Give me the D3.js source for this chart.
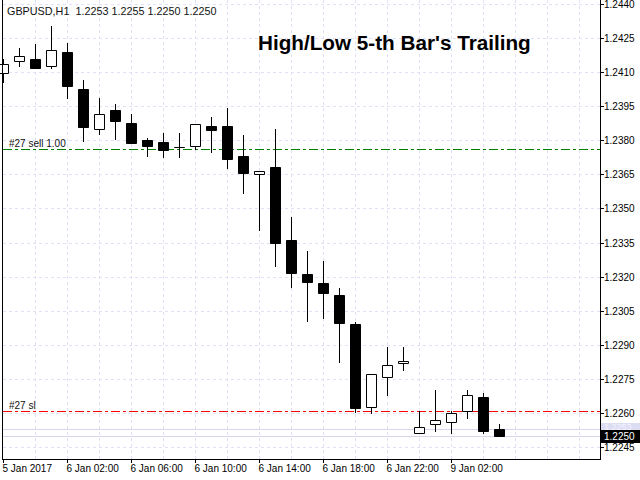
<!DOCTYPE html>
<html>
<head>
<meta charset="utf-8">
<script src="https://cdn.jsdelivr.net/npm/d3@7"></script>
<style>
body { margin: 0; background: #fff; }
svg { display: block; }
text { font-family: "Liberation Sans", Arial, sans-serif; white-space: pre; }
</style>
</head>
<body>
<div id="chart"></div>
<script>
// GBPUSD H1, one bar per hour starting 5 Jan 2017 22:00
var opens  = [1.24098, 1.24151, 1.24160, 1.24129, 1.24190, 1.24028, 1.23848, 1.23932,
              1.23878, 1.23801, 1.23791, 1.23770, 1.23777, 1.23862, 1.23862, 1.23730,
              1.23650, 1.23682, 1.23361, 1.23213, 1.23173, 1.23119, 1.22992, 1.22628,
              1.22756, 1.22819, 1.22510, 1.22551, 1.22558, 1.22608, 1.22671, 1.2253];
var highs  = [1.24160, 1.24208, 1.24223, 1.24302, 1.24230, 1.24067, 1.23988, 1.23959,
              1.23918, 1.23808, 1.23830, 1.23830, 1.23870, 1.23902, 1.23943, 1.23823,
              1.23667, 1.23848, 1.23462, 1.23313, 1.23269, 1.23150, 1.23001, 1.22771,
              1.22891, 1.22891, 1.22608, 1.22702, 1.22608, 1.22702, 1.22689, 1.2255];
var lows   = [1.24057, 1.24127, 1.24120, 1.24120, 1.23987, 1.23798, 1.23827, 1.23806,
              1.23789, 1.23729, 1.23727, 1.23727, 1.23760, 1.23749, 1.23679, 1.23569,
              1.23406, 1.23248, 1.23156, 1.23006, 1.23020, 1.22826, 1.22602, 1.22598,
              1.22677, 1.22787, 1.22510, 1.22519, 1.22510, 1.22576, 1.22510, 1.2250];
var closes = [1.24138, 1.24170, 1.24120, 1.24199, 1.24039, 1.23859, 1.23918, 1.23885,
              1.23789, 1.23776, 1.23758, 1.23770, 1.23870, 1.23846, 1.23718, 1.23657,
              1.23667, 1.23349, 1.23217, 1.23177, 1.23130, 1.22998, 1.22620, 1.22771,
              1.22810, 1.22829, 1.22539, 1.22569, 1.22599, 1.22679, 1.22519, 1.2250];

var priceTicks = [1.2245, 1.2260, 1.2275, 1.2290, 1.2305, 1.2320, 1.2335,
                  1.2350, 1.2365, 1.2380, 1.2395, 1.2410, 1.2425, 1.2440];
var timeBars   = [0, 4, 8, 12, 16, 20, 24, 28];
var timeLabels = ["5 Jan 2017", "6 Jan 02:00", "6 Jan 06:00", "6 Jan 10:00",
                  "6 Jan 14:00", "6 Jan 18:00", "6 Jan 22:00", "9 Jan 02:00"];

var sellPrice = 1.23760;
var slPrice   = 1.22608;
var bidPrice  = 1.2250;
var askPrice  = 1.2253;
var header = "GBPUSD,H1  1.2253 1.2255 1.2250 1.2250";
var title  = "High/Low 5-th Bar's Trailing";

function candleChart(width, height, tag) {
	this.width = width;
	this.height = height;
	this.left = 2;
	this.right = 600;
	this.bottom = 459;
	this.svg = d3.select(tag)
		.append("svg")
		.attr("width", width)
		.attr("height", height);
	this.init();
}

candleChart.prototype = {
	init : function() {
		// 16px per bar, bar 0 sits on the left frame
		this.x = d3.scaleLinear().domain([0, 37]).range([3, 595]);
		this.y = d3.scaleLinear().domain([1.2245, 1.2440]).range([447, 4])
			.interpolate(d3.interpolateRound);
	},
	drawGrid : function() {
		var self = this;
		var grid = self.svg.append("g")
			.attr("stroke", "#e0e0f6")
			.attr("stroke-dasharray", "3,3");
		grid.selectAll("line.h")
			.data(priceTicks)
			.enter()
			.append("line")
			.attr("class", "h")
			.attr("x1", self.left + 1)
			.attr("x2", self.right)
			.attr("y1", function(d) { return self.y(d) + 0.5; })
			.attr("y2", function(d) { return self.y(d) + 0.5; });
		grid.selectAll("line.v")
			.data(d3.range(2, 38, 2))
			.enter()
			.append("line")
			.attr("class", "v")
			.attr("x1", function(d) { return self.x(d) + 0.5; })
			.attr("x2", function(d) { return self.x(d) + 0.5; })
			.attr("y1", 0)
			.attr("y2", self.bottom);
	},
	drawLevels : function() {
		var self = this;
		var quotes = [askPrice, bidPrice];
		self.svg.selectAll("line.quote")
			.data(quotes)
			.enter()
			.append("line")
			.attr("class", "quote")
			.attr("x1", self.left + 1)
			.attr("x2", self.right)
			.attr("y1", function(d) { return self.y(d) + 0.5; })
			.attr("y2", function(d) { return self.y(d) + 0.5; })
			.attr("stroke", "#d6d6ee");

		var orders = [
			{ price : sellPrice, color : "#008000", label : "#27 sell 1.00" },
			{ price : slPrice, color : "#ff0000", label : "#27 sl" }
		];
		self.svg.selectAll("line.order")
			.data(orders)
			.enter()
			.append("line")
			.attr("class", "order")
			.attr("x1", self.left + 1)
			.attr("x2", self.right)
			.attr("y1", function(d) { return self.y(d.price) + 0.5; })
			.attr("y2", function(d) { return self.y(d.price) + 0.5; })
			.attr("stroke", function(d) { return d.color; })
			.attr("stroke-dasharray", "9,3,3,3");
		self.svg.selectAll("text.order")
			.data(orders)
			.enter()
			.append("text")
			.attr("class", "order")
			.attr("x", 9)
			.attr("y", function(d) { return self.y(d.price) - 2; })
			.style("font-size", "10px")
			.style("fill", "#111")
			.text(function(d) { return d.label; });
	},
	drawCandles : function() {
		var self = this;
		var bars = self.svg.selectAll("g.bar")
			.data(closes)
			.enter()
			.append("g")
			.attr("class", "bar");
		bars.append("line")
			.attr("x1", function(d, i) { return self.x(i) + 0.5; })
			.attr("x2", function(d, i) { return self.x(i) + 0.5; })
			.attr("y1", function(d, i) { return self.y(highs[i]); })
			.attr("y2", function(d, i) { return self.y(lows[i]) + 1; })
			.attr("stroke", "#000");
		bars.append("path")
			.attr("d", function(d, i) {
				var top = self.y(Math.max(opens[i], d)) + 0.5;
				var h = self.y(Math.min(opens[i], d)) - self.y(Math.max(opens[i], d));
				var x0 = self.x(i) - 4.5;
				return "M" + x0 + "," + top + "h10v" + h + "h-10Z";
			})
			.attr("fill", function(d, i) { return d < opens[i] ? "#000" : "#fff"; })
			.attr("stroke", "#000");
	},
	drawAxes : function() {
		var self = this;
		var frame = self.svg.append("g").attr("stroke", "#000");
		frame.append("line")
			.attr("x1", self.left + 0.5).attr("x2", self.left + 0.5)
			.attr("y1", 0).attr("y2", self.bottom);
		frame.append("line")
			.attr("x1", self.right + 0.5).attr("x2", self.right + 0.5)
			.attr("y1", 0).attr("y2", self.bottom + 1);
		frame.append("line")
			.attr("x1", self.left).attr("x2", self.right + 1)
			.attr("y1", self.bottom + 0.5).attr("y2", self.bottom + 0.5);

		var yAxis = self.svg.append("g")
			.attr("transform", "translate(" + self.right + ",0)")
			.call(d3.axisRight(self.y)
				.tickValues(priceTicks)
				.tickSize(4)
				.tickSizeOuter(0)
				.tickPadding(0)
				.tickFormat(d3.format(".4f")));
		yAxis.select(".domain").remove();
		yAxis.selectAll("text")
			.attr("font-family", "Liberation Sans, Arial, sans-serif")
			.style("font-size", "10px");

		var xAxis = self.svg.append("g")
			.attr("transform", "translate(0," + self.bottom + ")")
			.call(d3.axisBottom(self.x)
				.tickValues(timeBars)
				.tickSize(4)
				.tickSizeOuter(0)
				.tickFormat(function(d, i) { return timeLabels[i]; }));
		xAxis.select(".domain").remove();
		xAxis.selectAll("text")
			.attr("font-family", "Liberation Sans, Arial, sans-serif")
			.attr("text-anchor", "start")
			.attr("x", -1)
			.attr("y", 13)
			.attr("dy", 0)
			.style("font-size", "10px");
	},
	drawQuotes : function() {
		var self = this;
		// ask label sits half hidden behind the bid label
		var ay = self.y(askPrice);
		var by = self.y(bidPrice);
		self.svg.append("rect")
			.attr("x", self.right + 1)
			.attr("y", ay - 6)
			.attr("width", 40)
			.attr("height", 12)
			.attr("fill", "#dcdcf2");
		self.svg.append("text")
			.attr("x", self.right + 4)
			.attr("y", ay + 1)
			.style("font-size", "9px")
			.style("fill", "#f4f4ff")
			.text(d3.format(".4f")(askPrice));
		self.svg.append("rect")
			.attr("x", self.right + 1)
			.attr("y", by - 6)
			.attr("width", 40)
			.attr("height", 13)
			.attr("fill", "#000");
		self.svg.append("text")
			.attr("x", self.right + 4)
			.attr("y", by + 4)
			.style("font-size", "10px")
			.style("fill", "#fff")
			.text(d3.format(".4f")(bidPrice));
	},
	drawTitles : function() {
		this.svg.append("text")
			.attr("x", 7)
			.attr("y", 14.5)
			.style("font-size", "10.8px")
			.style("fill", "#111")
			.text(header);
		this.svg.append("text")
			.attr("x", 258)
			.attr("y", 50)
			.style("font-size", "20.7px")
			.style("font-weight", "bold")
			.style("fill", "#000")
			.text(title);
	},
	update : function() {
		this.drawGrid();
		this.drawLevels();
		this.drawCandles();
		this.drawAxes();
		this.drawQuotes();
		this.drawTitles();
	}
};

var my_chart = new candleChart(640, 480, "#chart");
my_chart.update();
</script>
</body>
</html>
